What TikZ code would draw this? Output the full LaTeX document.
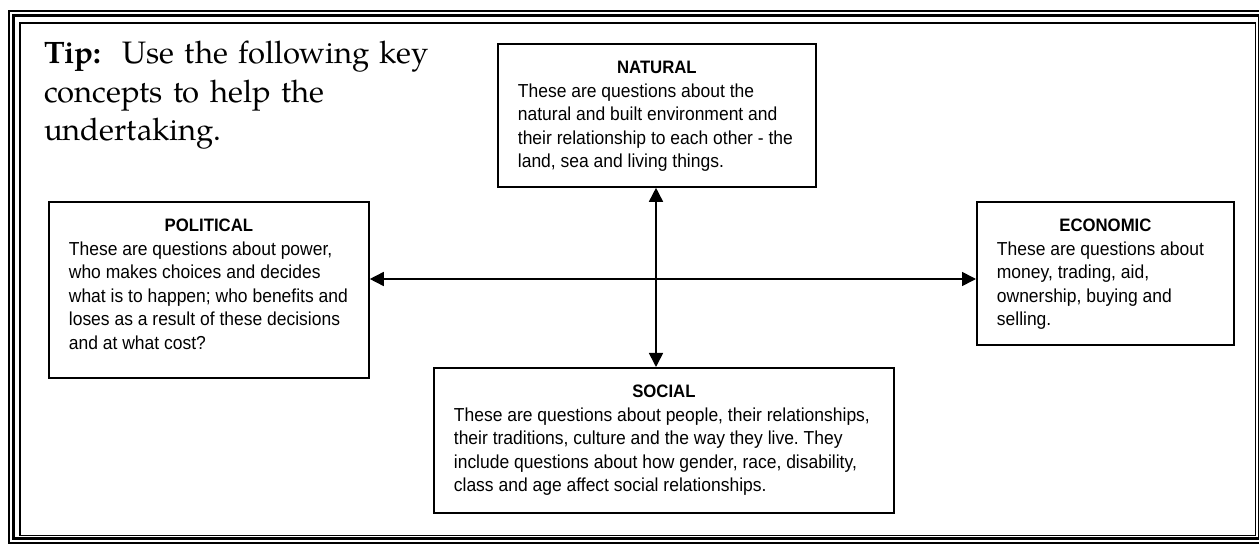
\documentclass[tikz,border=0pt]{standalone}
\usepackage{fontspec}
\setmainfont{Liberation Sans}
\newfontfamily\bodyfont[FakeStretch=0.93]{Liberation Sans}
\newfontfamily\tipfont{TeX Gyre Pagella}
\usetikzlibrary{arrows.meta}
\frenchspacing

% Box body: centred bold heading, then left-aligned lines, top-aligned in a fixed-size box
\newcommand\conceptcontent[4]{%
  \begin{minipage}[t][#2][t]{#1}%
    \setlength\parindent{0pt}%
    {\centering\bodyfont\fontsize{18}{20}\selectfont\bfseries\rule{0pt}{30pt}#3\par}%
    {\raggedright\leftskip=20pt\bodyfont\fontsize{18.8}{23.5}\selectfont #4\par}%
  \end{minipage}}

\tikzset{
  concept/.style={draw=black, line width=1.8pt, inner sep=0pt, anchor=north west},
  link/.style={line width=1.6pt, {Triangle[length=14pt,width=14pt]}-{Triangle[length=14pt,width=14pt]}},
  tiptext/.style={anchor=base west, inner sep=0pt, text width=430pt, align=left,
    font=\tipfont\fontsize{31}{38.5}\selectfont}
}

\begin{document}
\begin{tikzpicture}[x=1pt,y=-1pt]
  \useasboundingbox (0,0) rectangle (1259,545);
  \fill[white] (0,0) rectangle (1259,545);

  % triple page frame: thin, thick, thin
  \draw[line width=2pt]   (9,11)     rectangle (1263,543);
  \draw[line width=3.5pt] (13.5,15.5) rectangle (1259.5,538.5);
  \draw[line width=1.5pt] (20,23)    rectangle (1255.5,535.5);

  % tip
  \node[tiptext] (tip) at (44,64)
    {\textbf{Tip:}\ \ Use the following key\\concepts to help the\\undertaking.};

  % the four concept boxes
  \node[concept] (nat) at (497,43) {\conceptcontent{318pt}{143pt}{NATURAL}{%
    These are questions about the\\
    natural and built environment and\\
    their relationship to each other - the\\
    land, sea and living things.}};

  \node[concept] (pol) at (48,201) {\conceptcontent{320pt}{176pt}{POLITICAL}{%
    These are questions about power,\\
    who makes choices and decides\\
    what is to happen; who benefits and\\
    loses as a result of these decisions\\
    and at what cost?}};

  \node[concept] (eco) at (976,201) {\conceptcontent{257pt}{143pt}{ECONOMIC}{%
    These are questions about\\
    money, trading, aid,\\
    ownership, buying and\\
    selling.}};

  \node[concept] (soc) at (433,367) {\conceptcontent{460pt}{145pt}{SOCIAL}{%
    These are questions about people, their relationships,\\
    their traditions, culture and the way they live. They\\
    include questions about how gender, race, disability,\\
    class and age affect social relationships.}};

  % connecting arrows crossing at the hub
  \coordinate (hub) at (656,279);
  \draw[link] (pol.east |- hub) -- (eco.west |- hub);
  \draw[link] (nat.south -| hub) -- (soc.north -| hub);
\end{tikzpicture}
\end{document}
